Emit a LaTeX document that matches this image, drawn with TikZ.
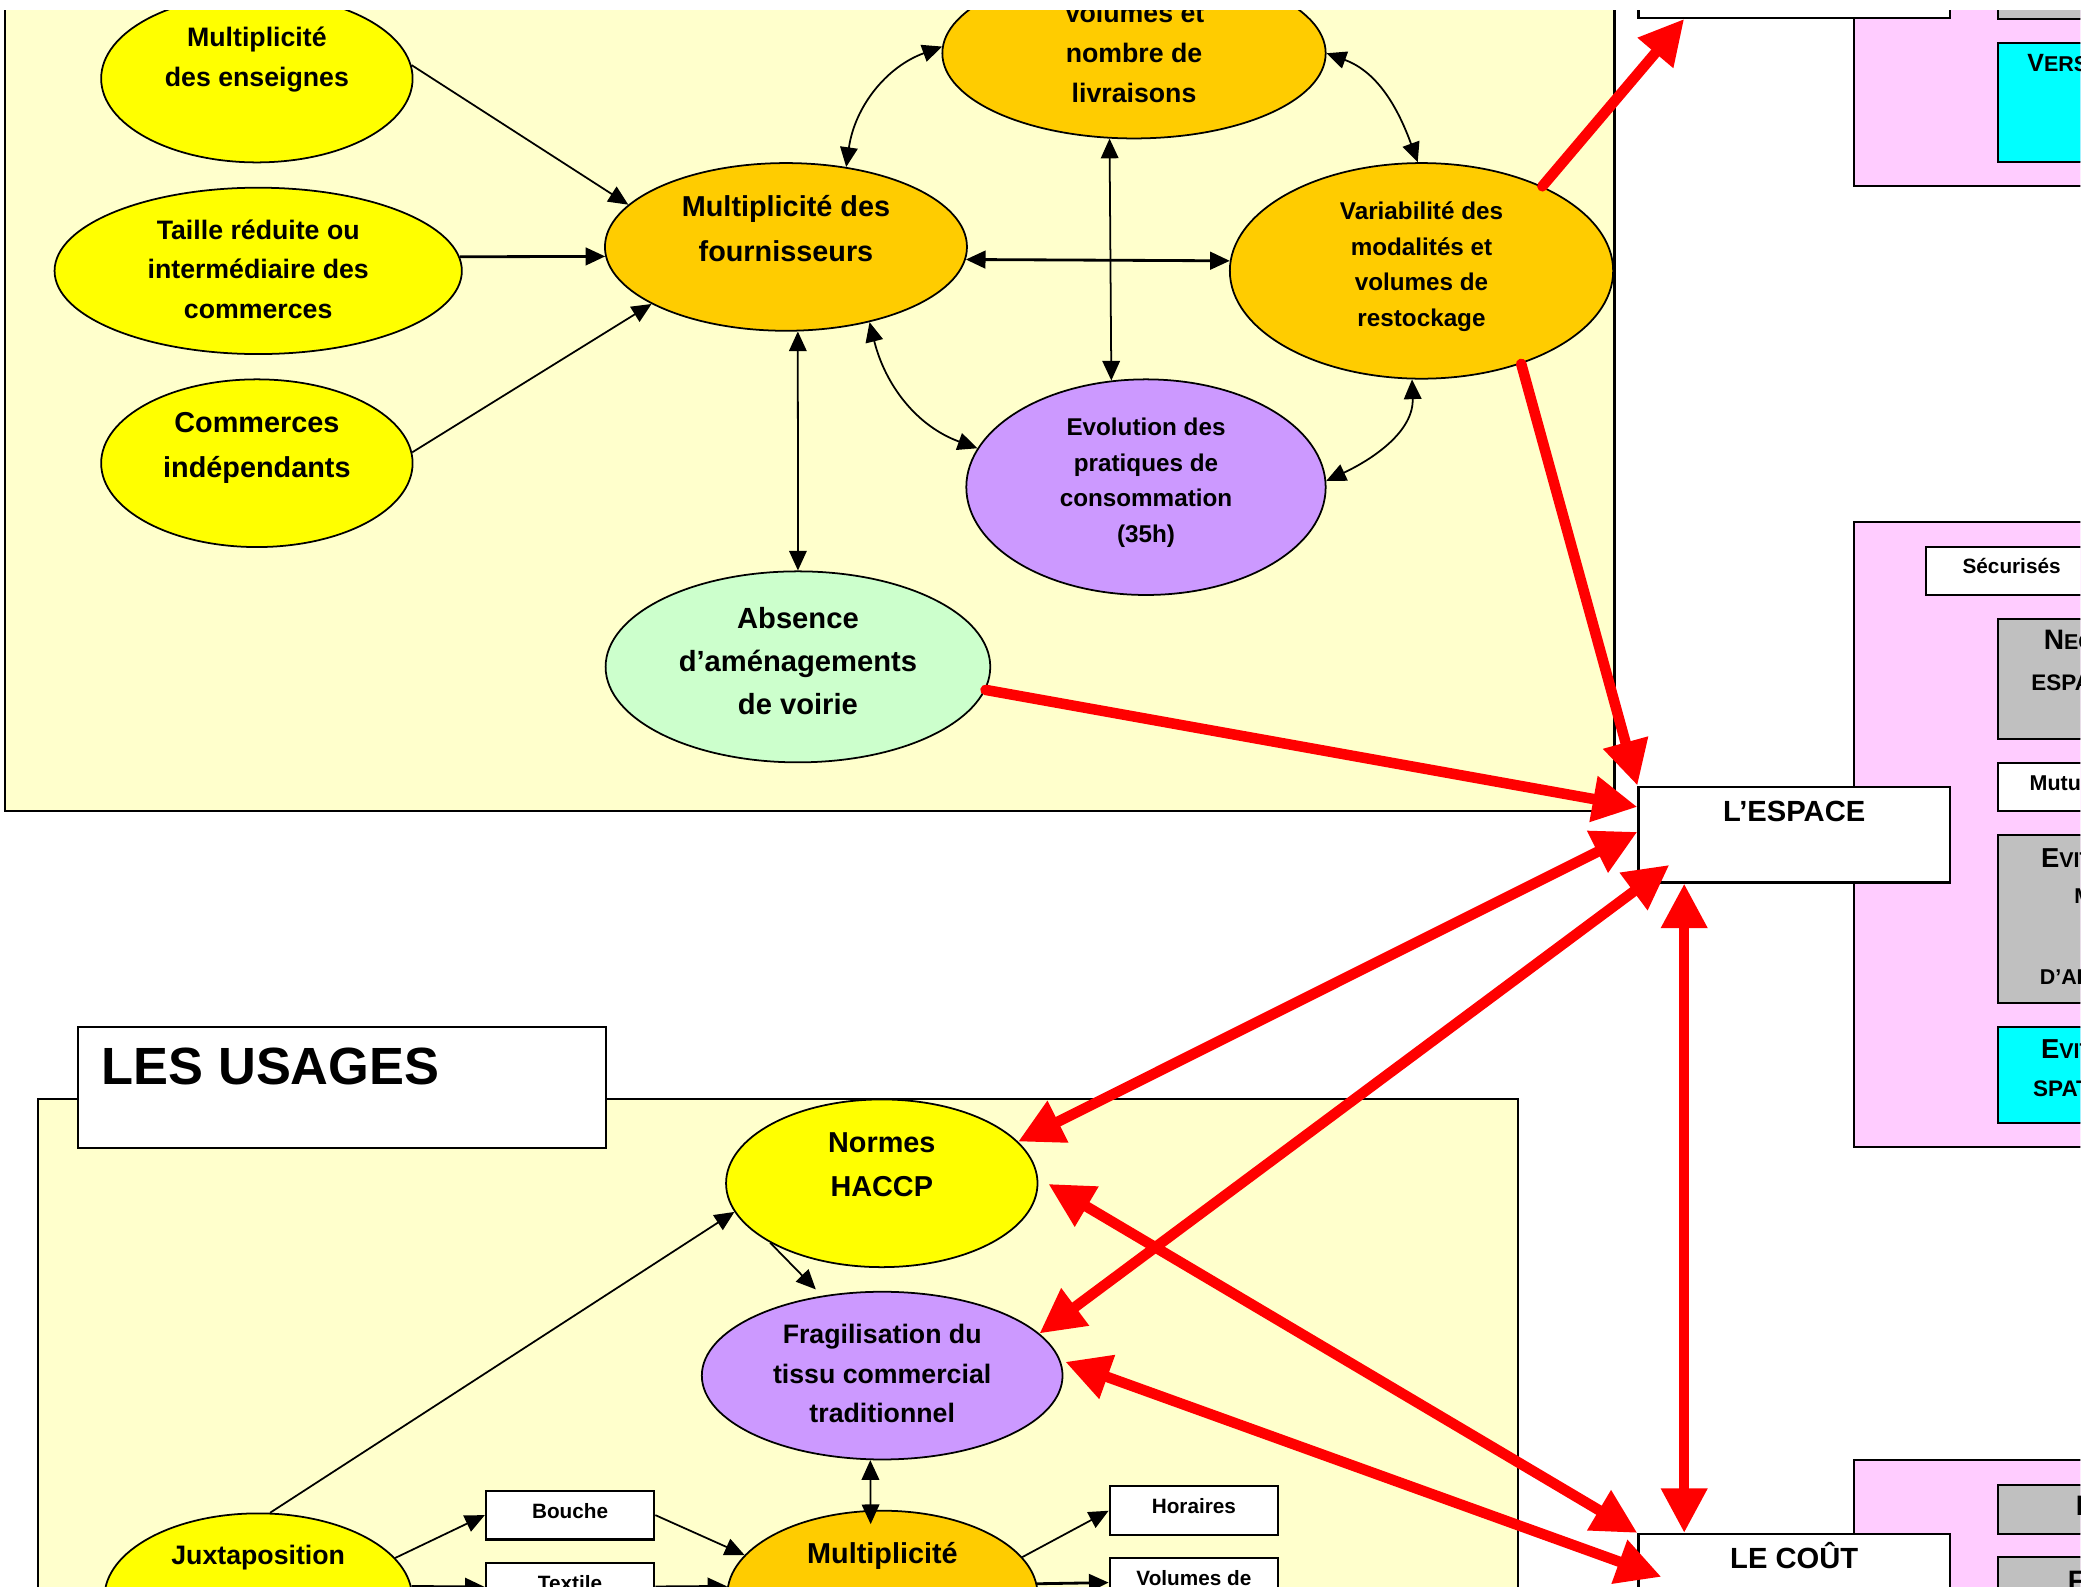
\documentclass[tikz,border=0pt]{standalone}
\usepackage{fontspec}
\setmainfont{Liberation Sans}
\usetikzlibrary{arrows.meta, shapes.geometric}

\definecolor{fondjaune}{HTML}{FFFFCC}
\definecolor{jaunevif}{HTML}{FFFF00}
\definecolor{orangeclair}{HTML}{FFCC00}
\definecolor{mauve}{HTML}{CC99FF}
\definecolor{vertclair}{HTML}{CCFFCC}
\definecolor{rose}{HTML}{FFCCFF}
\definecolor{cyanvif}{HTML}{00FFFF}
\definecolor{grisclair}{HTML}{C0C0C0}

\newcommand{\pcap}[3][7.8]{{\fontsize{#1}{#1}\selectfont #2}{\fontsize{6.1}{6.1}\selectfont #3}}

\begin{document}
\begin{tikzpicture}[
    x=0.3787pt, y=-0.3787pt,
    dim/.style 2 args={minimum width=#1*0.3787pt, minimum height=#2*0.3787pt},
    hd/.style 2 args={text height=#1pt, text depth=#2pt},
    bulle/.style={ellipse, draw, line width=0.5pt, inner sep=0pt, align=center},
    bjaune/.style={bulle, fill=jaunevif},
    borange/.style={bulle, fill=orangeclair},
    bmauve/.style={bulle, fill=mauve},
    bvert/.style={bulle, fill=vertclair},
    txtm/.style={font=\fontsize{7.6}{11.3}\selectfont\bfseries},
    txtg/.style={font=\fontsize{8.2}{12.8}\selectfont\bfseries},
    txtp/.style={font=\fontsize{6.9}{10.1}\selectfont\bfseries},
    cadre/.style={line width=0.6pt},
    boite/.style={rectangle, draw, line width=0.6pt, fill=white, dim={234}{72}, inner sep=1pt,
        font=\fontsize{8.3}{10}\selectfont\bfseries, hd={6}{13.6}},
    etiq/.style={rectangle, draw, line width=0.6pt, fill=white, dim={126.5}{36.6}, inner sep=0pt,
        font=\fontsize{5.9}{7}\selectfont\bfseries, hd={4.3}{2.5}},
    pc/.style={anchor=base west, inner sep=0pt, font=\fontsize{6.1}{6.1}\selectfont\bfseries},
    fleche/.style={>={Triangle[length=5.6pt, width=5pt]}, ->, line width=0.5pt},
    fleches/.style={fleche, <->},
    rouge/.style={draw=red, line width=3pt, line cap=round, >={Triangle[length=12.7pt, width=12.5pt]}, ->},
    rouges/.style={rouge, <->}
]

\useasboundingbox (0,0) rectangle (1568,1192);
\begin{scope}
\clip (0,8) rectangle (1563,1192);

% cadres
\draw[cadre, fill=fondjaune] (4,-50) rectangle (1213,609);
\draw[cadre, fill=fondjaune] (28.7,826) rectangle (1140.6,1300);
\draw[cadre, fill=white] (58.3,771.6) rectangle (455.4,862.3);
\node[anchor=base west, inner sep=0pt, font=\fontsize{14.9}{18}\selectfont\bfseries] (usages) at (76,815) {LES USAGES};

% colonne de droite
\draw[cadre, fill=rose] (1393,-50) rectangle (1700,140);
\draw[cadre, fill=grisclair] (1501,-50) rectangle (1700,14);
\draw[cadre, fill=cyanvif] (1501,32.2) rectangle (1700,122);
\draw[cadre, fill=rose] (1393,392.4) rectangle (1700,861.8);
\draw[cadre, fill=white] (1447,411) rectangle (1700,446.7);
\draw[cadre, fill=grisclair] (1501,465) rectangle (1700,555);
\draw[cadre, fill=white] (1501,573.5) rectangle (1700,609.4);
\draw[cadre, fill=grisclair] (1501,627) rectangle (1700,753.8);
\draw[cadre, fill=cyanvif] (1501,771.5) rectangle (1700,843.6);
\draw[cadre, fill=rose] (1393,1097) rectangle (1700,1300);
\draw[cadre, fill=grisclair] (1501,1115.7) rectangle (1700,1152.5);
\draw[cadre, fill=grisclair] (1501,1170) rectangle (1700,1300);

\node[pc] (vers) at (1522.7,53.7) {\pcap[7.1]{V}{ERS}};
\node[pc, font=\fontsize{5.9}{6}\selectfont\bfseries] (securises) at (1474,431) {Sécurisés};
\node[pc] (nec) at (1535,488) {\pcap[8]{N}{EC}};
\node[pc, font=\fontsize{6.4}{6.4}\selectfont\bfseries] (espa) at (1525.7,519) {ESPA};
\node[pc] (mutu) at (1524.4,593.6) {Mutu};
\node[pc] (evit) at (1533,651.4) {\pcap{E}{VIT}};
\node[pc] (m) at (1558,679) {M};
\node[pc] (dai) at (1532,740) {D’AI};
\node[pc] (evitb) at (1533,795.6) {\pcap{E}{VIT}};
\node[pc, font=\fontsize{6.4}{6.4}\selectfont\bfseries] (spat) at (1527,824) {SPAT};
\node[pc, font=\fontsize{8}{8}\selectfont\bfseries] (lettrei) at (1559,1138.5) {I};
\node[pc, font=\fontsize{8}{8}\selectfont\bfseries] (lettref) at (1553,1195) {F};

% bulles
\node[bjaune, txtm, dim={234}{126}, hd={17}{12.5}] (enseignes) at (193,59) {Multiplicité\\des enseignes};
\node[bjaune, txtm, dim={306}{125}, hd={28.3}{1.1}] (reduite) at (194,203.5) {Taille réduite ou\\intermédiaire des\\commerces};
\node[bjaune, txtg, dim={234}{126}, hd={19}{11.1}] (independants) at (193,348) {Commerces\\indépendants};
\node[borange, txtg, dim={272}{126}, hd={18.95}{10.7}] (fournisseurs) at (590.5,185.5) {Multiplicité des\\fournisseurs};
\node[borange, txtm, dim={288}{128}, hd={28.3}{0.4}] (livraisons) at (852,40) {Volumes et\\nombre de\\livraisons};
\node[borange, txtp, dim={288}{162}, hd={35.5}{3.9}] (restockage) at (1068,203.5) {Variabilité des\\modalités et\\volumes de\\restockage};
\node[bmauve, txtp, dim={270}{162}, hd={35.5}{4.1}] (pratiques) at (861,366) {Evolution des\\pratiques de\\consommation\\(35h)};
\node[bvert, font=\fontsize{8.3}{12.3}\selectfont\bfseries, dim={289}{143.5}, hd={30.8}{3.5}] (voirie) at (599.5,501) {Absence\\d’aménagements\\de voirie};
\node[bjaune, txtg, dim={234}{126}, hd={18.9}{11.1}] (haccp) at (662.5,889) {Normes\\HACCP};
\node[bmauve, txtm, dim={271}{126}, hd={28.3}{1.5}] (fragilisation) at (662.8,1033.5) {Fragilisation du\\tissu commercial\\traditionnel};
\node[bjaune, txtm, dim={231}{126}, hd={5.8}{24.6}] (juxtaposition) at (194,1200) {Juxtaposition};
\node[borange, txtg, dim={233}{126}, hd={6.1}{23.6}] (multiplicite) at (663,1198) {Multiplicité};

% boites
\node[boite] (haut) at (1348,-22.6) {};
\node[boite] (espace) at (1348,627) {L’ESPACE};
\node[boite] (cout) at (1348,1188.5) {LE COÛT};
\node[etiq] (bouche) at (428.3,1138.3) {Bouche};
\node[etiq] (textile) at (428.3,1192.3) {Textile};
\node[etiq] (horaires) at (897,1135) {Horaires};
\node[etiq] (volumes) at (897,1189) {Volumes de};

% liens
\draw[fleche] (enseignes.5) -- (fournisseurs.165);
\draw[fleche, line width=0.8pt] (reduite.4) -- (fournisseurs.183);
\draw[fleche] (independants.4) -- (fournisseurs.203);
\draw[fleches] (fournisseurs.53) to[out=82, in=200] (livraisons.178);
\draw[fleches] (livraisons.0) to[out=-20, in=110] (restockage.92);
\draw[fleches, line width=0.8pt] (fournisseurs.-4) -- (restockage.177);
\draw[fleches] (livraisons.254) -- (pratiques.108);
\draw[fleches] (fournisseurs.-42) to[out=-76, in=160] (pratiques.167);
\draw[fleches] (restockage.265) to[out=-88, in=25] (pratiques.2);
\draw[fleches] (fournisseurs.-82) -- (voirie.north);

\draw[fleche] (juxtaposition.82) -- (haccp.191);
\draw[fleche, shorten >=2.5pt] (haccp.208) -- (fragilisation.127);
\draw[fleches, shorten >=-4pt] (fragilisation.262) -- (multiplicite.98);
\draw[fleche] (juxtaposition.16) -- (bouche.west);
\draw[fleche] (bouche.east) -- (multiplicite.164);
\draw[fleche] (multiplicite.15) -- (horaires.west);
\draw[fleche, line width=0.8pt] (juxtaposition.4) -- (textile.west);
\draw[fleche, line width=0.8pt] (textile.east) -- (multiplicite.177);
\draw[fleche, line width=0.8pt] (multiplicite.4) -- (volumes.west);

\draw[rouge] (restockage.35) -- (haut.204);
\draw[rouge] (restockage.-43) -- (espace.north west);
\draw[rouge] (voirie.-7) -- (espace.170);
\draw[rouges] (espace.179) -- (haccp.17);
\draw[rouges] ([shift={(24,-14)}]espace.south west) -- (fragilisation.15);
\draw[rouges] (espace.204) -- (cout.156);
\draw[rouges, shorten >=3.4pt] (cout.north west) -- (haccp.2);
\draw[rouges, shorten >=1.5pt] ([shift={(18,33)}]cout.north west) -- (fragilisation.5);

\end{scope}
\end{tikzpicture}
\end{document}
